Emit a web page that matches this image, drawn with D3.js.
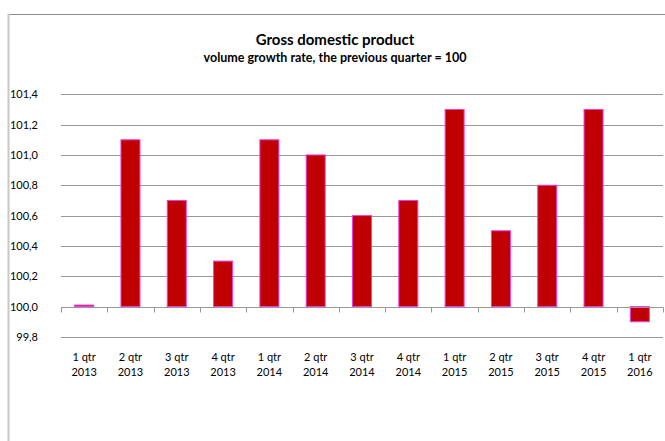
<!DOCTYPE html>
<html><head><meta charset="utf-8">
<script src="https://cdn.jsdelivr.net/npm/d3@7"></script>
<style>body{margin:0;background:#fff}svg{display:block}text{font-family:Lato,"Open Sans",sans-serif;fill:#000}</style>
</head><body><svg id="c" width="665" height="441"></svg>
<script>
const quarters = ["1 qtr","2 qtr","3 qtr","4 qtr","1 qtr","2 qtr","3 qtr","4 qtr","1 qtr","2 qtr","3 qtr","4 qtr","1 qtr"];
const years = ["2013","2013","2013","2013","2014","2014","2014","2014","2015","2015","2015","2015","2016"];
const values = [100.01,101.1,100.7,100.3,101.1,101.0,100.6,100.7,101.3,100.5,100.8,101.3,99.9];
const yTicks = [99.8,100.0,100.2,100.4,100.6,100.8,101.0,101.2,101.4];
const title = "Gross domestic product";
const subtitle = "volume growth rate, the previous quarter = 100";

const svg = d3.select("#c");
const L = 61, R = 663, T = 94.3, B = 336.9;
const cats = d3.range(values.length);
const x = d3.scaleBand().domain(cats).range([L, R]).paddingInner(0).paddingOuter(0);
const y = d3.scaleLinear().domain([99.8, 101.4]).range([B, T]);

// chart border
svg.append("line").attr("x1",8).attr("x2",665).attr("y1",14.5).attr("y2",14.5).attr("stroke","#8c8c8c").attr("stroke-width",1);
svg.append("line").attr("x1",8.5).attr("x2",8.5).attr("y1",14).attr("y2",441).attr("stroke","#c8c8c8").attr("stroke-width",2);

// titles
svg.append("text").attr("x",335).attr("y",45).attr("text-anchor","middle").attr("font-weight","bold").attr("font-size",15).text(title);
svg.append("text").attr("x",335).attr("y",62).attr("text-anchor","middle").attr("font-weight","bold").attr("font-size",12.5).text(subtitle);

// gridlines
svg.append("g").selectAll("line").data(yTicks.filter(d => d !== 100.0)).join("line")
  .attr("x1",L).attr("x2",R).attr("y1",d=>Math.round(y(d))+0.5).attr("y2",d=>Math.round(y(d))+0.5)
  .attr("stroke","#999").attr("stroke-width",1);

// y labels
const yAxis = d3.axisLeft(y).tickValues(yTicks).tickSize(0).tickPadding(0)
  .tickFormat(d => d3.format(".1f")(d).replace(".", ","));
const gy = svg.append("g").attr("transform",`translate(${L-23},0)`).call(yAxis);
gy.select(".domain").remove();
gy.selectAll("text").attr("font-size",11).attr("fill","#000").attr("font-family","Lato,sans-serif");

// bars
const bw = 19;
svg.append("g").selectAll("rect").data(values).join("rect")
  .attr("x",(d,i)=>x(i)+x.bandwidth()/2-bw/2)
  .attr("width",bw)
  .attr("y",d=>y(Math.max(d,100)))
  .attr("height",d=>Math.abs(y(d)-y(100)))
  .attr("fill","#c00000").attr("stroke","#e83ee8").attr("stroke-width",1);

// x axis at 100
const y0 = Math.round(y(100))+0.5;
svg.append("line").attr("x1",L).attr("x2",R).attr("y1",y0).attr("y2",y0).attr("stroke","#999");
svg.append("g").selectAll("line").data(d3.range(values.length+1)).join("line")
  .attr("x1",i=>Math.round(L+i*x.step())+0.5).attr("x2",i=>Math.round(L+i*x.step())+0.5)
  .attr("y1",y0).attr("y2",y0+5).attr("stroke","#999");

// category labels
const gx = svg.append("g");
gx.selectAll("text.q").data(cats).join("text").attr("class","q")
  .attr("x",i=>x(i)+x.bandwidth()/2).attr("y",361).attr("text-anchor","middle").attr("font-size",11).text(i=>quarters[i]);
gx.selectAll("text.yr").data(cats).join("text").attr("class","yr")
  .attr("x",i=>x(i)+x.bandwidth()/2).attr("y",376).attr("text-anchor","middle").attr("font-size",11).text(i=>years[i]);
</script></body></html>
